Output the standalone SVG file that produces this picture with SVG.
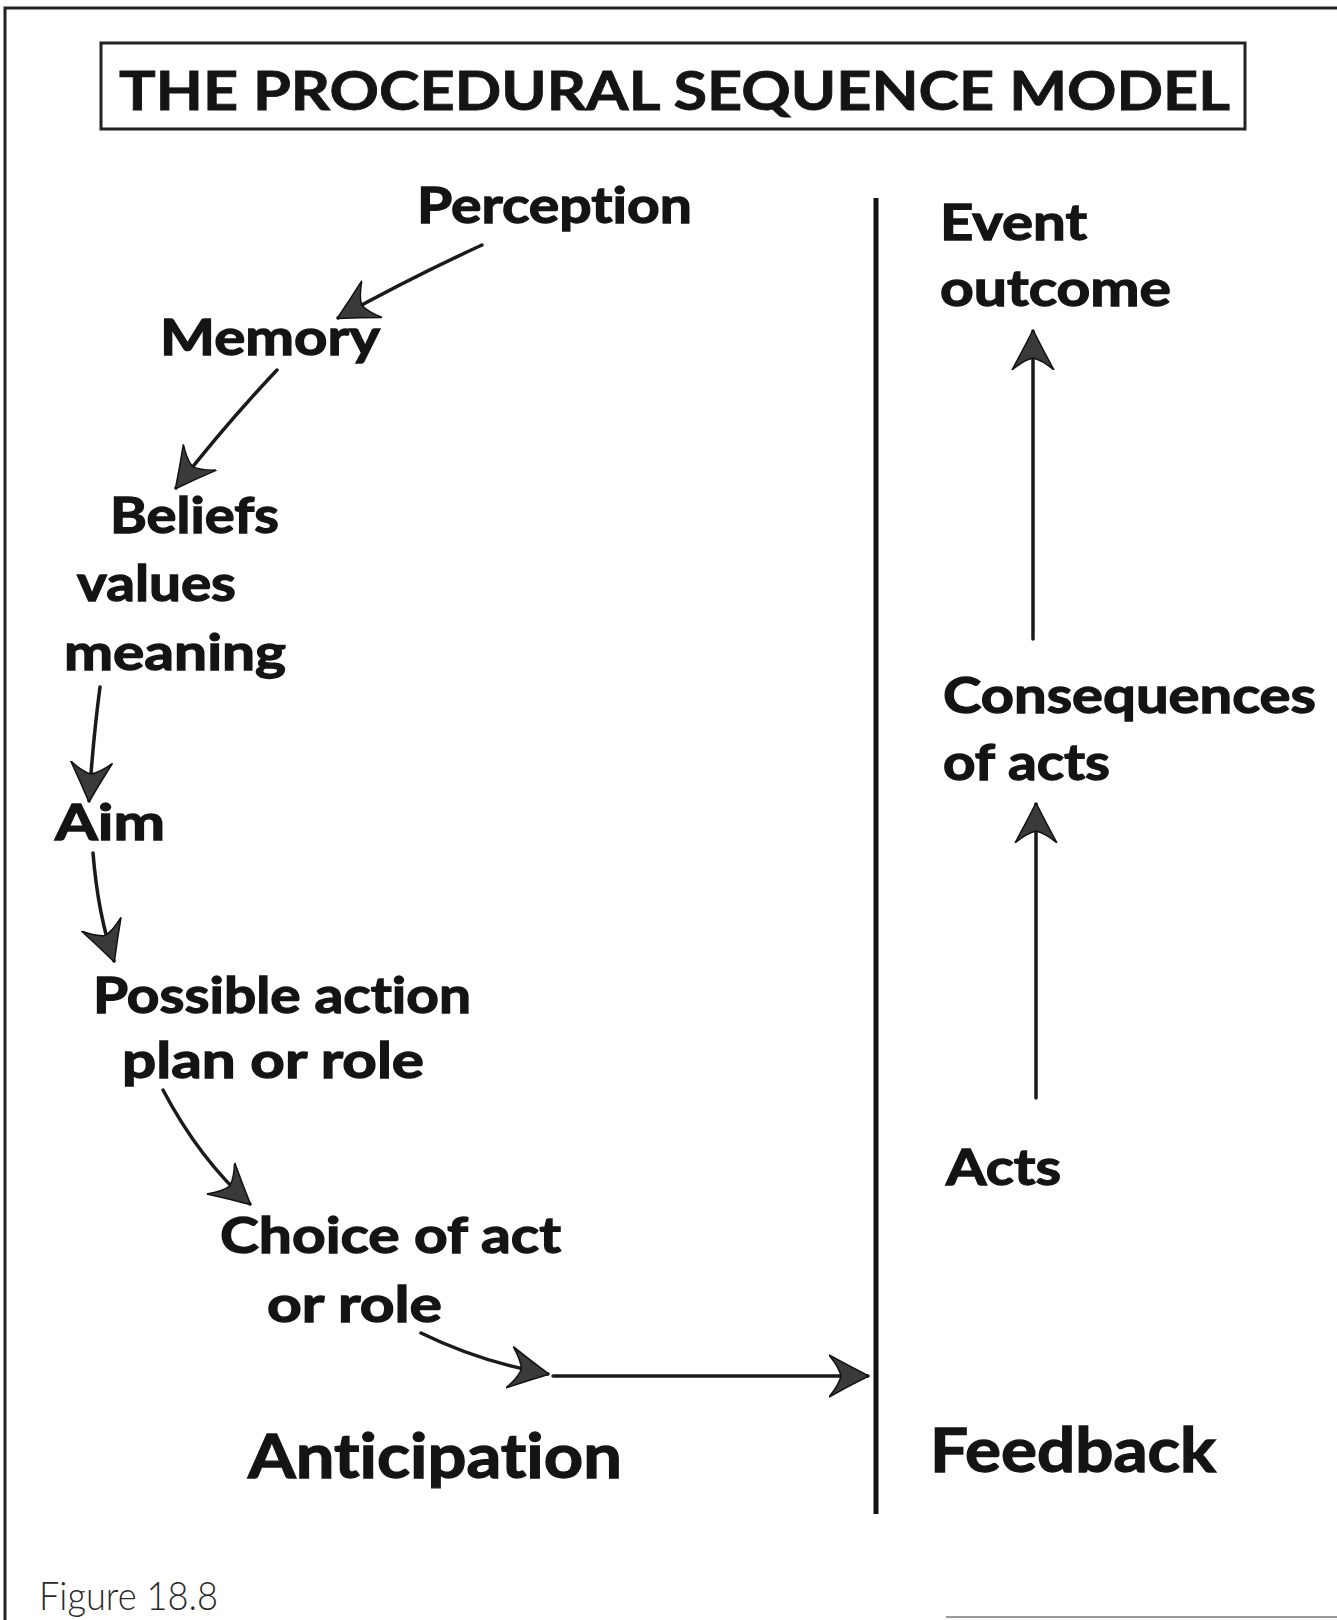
<svg xmlns="http://www.w3.org/2000/svg" width="1337" height="1620" viewBox="0 0 1337 1620">
<style>
.t{font-family:Lato,"Open Sans","Liberation Sans",sans-serif;font-weight:700;font-size:50px;fill:#141414;stroke:#141414;stroke-width:1.3;font-variant-ligatures:none;font-feature-settings:"liga" 0,"clig" 0,"dlig" 0,"calt" 0}
.big{font-size:62px}
.title{font-size:53px;stroke-width:0.8}
.cap{font-family:Lato,"Open Sans","Liberation Sans",sans-serif;font-weight:300;font-size:40px;fill:#2a2a2a;font-variant-ligatures:none;font-feature-settings:"liga" 0}
.ln{fill:none;stroke:#1a1a1a;stroke-width:3.5;stroke-linecap:round}
.frame{fill:none;stroke:#222;stroke-width:3}
</style>
<defs>
<marker id="ah" viewBox="0 0 40 44" refX="39" refY="22" markerWidth="40" markerHeight="44" markerUnits="userSpaceOnUse" orient="auto">
<path d="M40,22 Q20,12 0,1 Q10,13 12,22 Q10,31 0,43 Q20,32 40,22 Z" fill="#3a3a3a" stroke="#111" stroke-width="1.5"/>
</marker>
</defs>
<rect width="1337" height="1620" fill="#fff"/>
<g id="frame">
<path class="frame" d="M5,1620 V8 H1337"/>
<path d="M946,1617 H1337" stroke="#999" stroke-width="2"/>
</g>
<g id="title">
<rect x="101" y="43" width="1144" height="86" class="frame"/>
<text class="t title" x="119" y="110" textLength="1111" lengthAdjust="spacingAndGlyphs">THE PROCEDURAL SEQUENCE MODEL</text>
</g>
<g id="divider"><line x1="876" y1="198" x2="876" y2="1514" stroke="#111" stroke-width="5"/></g>
<g id="n-perception"><text class="t" x="417" y="223" textLength="275" lengthAdjust="spacingAndGlyphs">Perception</text></g>
<g id="n-memory"><text class="t" x="160" y="355" textLength="220" lengthAdjust="spacingAndGlyphs">Memory</text></g>
<g id="n-beliefs">
<text class="t" x="110" y="533" textLength="169" lengthAdjust="spacingAndGlyphs">Beliefs</text>
<text class="t" x="77" y="601" textLength="159" lengthAdjust="spacingAndGlyphs">values</text>
<text class="t" x="64" y="670" textLength="222" lengthAdjust="spacingAndGlyphs">meaning</text>
</g>
<g id="n-aim"><text class="t" x="55" y="840" textLength="110" lengthAdjust="spacingAndGlyphs">Aim</text></g>
<g id="n-possible">
<text class="t" x="93" y="1013" textLength="378" lengthAdjust="spacingAndGlyphs">Possible action</text>
<text class="t" x="122" y="1078" textLength="302" lengthAdjust="spacingAndGlyphs">plan or role</text>
</g>
<g id="n-choice">
<text class="t" x="220" y="1253" textLength="341" lengthAdjust="spacingAndGlyphs">Choice of act</text>
<text class="t" x="267" y="1322" textLength="175" lengthAdjust="spacingAndGlyphs">or role</text>
</g>
<g id="n-anticipation"><text class="t big" x="248" y="1478" textLength="374" lengthAdjust="spacingAndGlyphs">Anticipation</text></g>
<g id="n-event">
<text class="t" x="940" y="240" textLength="147" lengthAdjust="spacingAndGlyphs">Event</text>
<text class="t" x="940" y="306" textLength="231" lengthAdjust="spacingAndGlyphs">outcome</text>
</g>
<g id="n-consequences">
<text class="t" x="943" y="713" textLength="373" lengthAdjust="spacingAndGlyphs">Consequences</text>
<text class="t" x="943" y="780" textLength="167" lengthAdjust="spacingAndGlyphs">of acts</text>
</g>
<g id="n-acts"><text class="t" x="946" y="1185" textLength="115" lengthAdjust="spacingAndGlyphs">Acts</text></g>
<g id="n-feedback"><text class="t big" x="930" y="1472" textLength="286" lengthAdjust="spacingAndGlyphs">Feedback</text></g>
<g id="caption"><text class="cap" x="39" y="1610" textLength="179" lengthAdjust="spacingAndGlyphs">Figure 18.8</text></g>
<g id="connectors">
<path class="ln" d="M482,245 Q410,278 338,318" marker-end="url(#ah)"/>
<path class="ln" d="M277,370 Q225,425 176,488" marker-end="url(#ah)"/>
<path class="ln" d="M100,687 Q93,740 89,801" marker-end="url(#ah)"/>
<path class="ln" d="M93,853 Q98,915 114,961" marker-end="url(#ah)"/>
<path class="ln" d="M163,1090 Q200,1160 250,1204" marker-end="url(#ah)"/>
<path class="ln" d="M421,1333 Q480,1362 548,1374" marker-end="url(#ah)"/>
<path class="ln" d="M553,1376 H868" marker-end="url(#ah)"/>
<path class="ln" d="M1033,639 V331" marker-end="url(#ah)"/>
<path class="ln" d="M1036,1098 V804" marker-end="url(#ah)"/>
</g>
</svg>
